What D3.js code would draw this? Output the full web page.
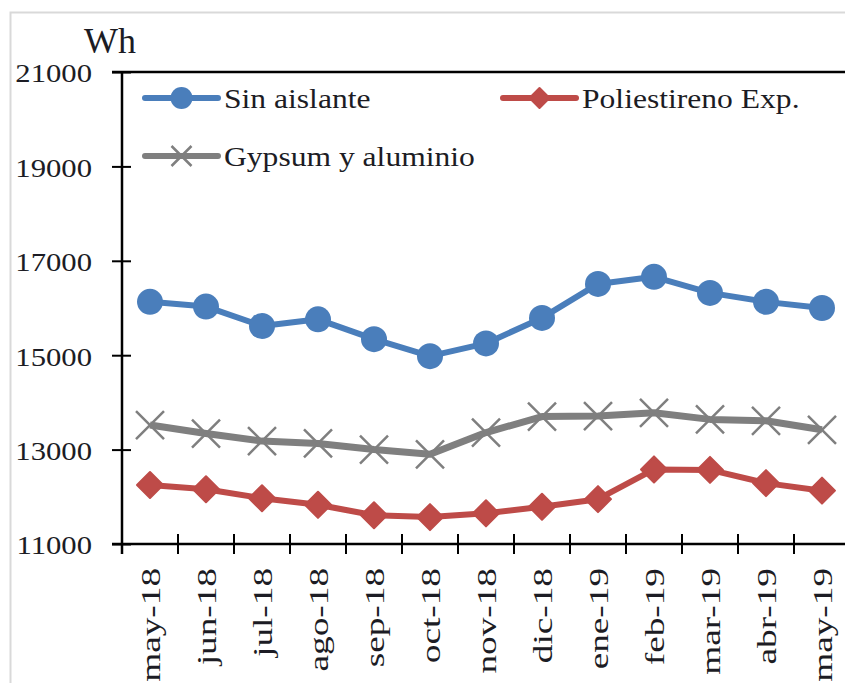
<!DOCTYPE html>
<html>
<head>
<meta charset="utf-8">
<script src="https://cdn.jsdelivr.net/npm/d3@7"></script>
<style>
  body { margin: 0; background: #fff; }
  text { font-family: "Liberation Serif", "Times New Roman", serif; fill: #1c1c24; }
</style>
</head>
<body>
<script>
var months = ["may-18", "jun-18", "jul-18", "ago-18", "sep-18", "oct-18", "nov-18",
              "dic-18", "ene-19", "feb-19", "mar-19", "abr-19", "may-19"];
var sinAislante = [16130, 16030, 15620, 15760, 15340, 14980, 15250, 15790, 16510, 16660, 16320, 16130, 16000];
var poliestireno = [12250, 12160, 11970, 11830, 11610, 11570, 11650, 11790, 11950, 12580, 12570, 12290, 12130];
var gypsum = [13520, 13340, 13180, 13130, 13000, 12900, 13360, 13700, 13710, 13780, 13640, 13610, 13420];
var yTicks = [11000, 13000, 15000, 17000, 19000, 21000];
var unitLabel = "Wh";

var series = [
  {name: "Sin aislante", values: sinAislante, color: "#4a7ebb", marker: "circle"},
  {name: "Poliestireno Exp.", values: poliestireno, color: "#be4b48", marker: "diamond"},
  {name: "Gypsum y aluminio", values: gypsum, color: "#7f7f7f", marker: "cross"}
];

var svg = d3.select("body").append("svg")
  .attr("width", 845)
  .attr("height", 683);

// light frame around the chart
svg.append("rect")
  .attr("x", 10.5).attr("y", 12.5)
  .attr("width", 900).attr("height", 700)
  .attr("fill", "#fff")
  .attr("stroke", "#d9d9d9")
  .attr("stroke-width", 2);

var x = d3.scaleBand().domain(months).range([122, 850]);
var y = d3.scaleLinear().domain([11000, 21000]).range([544, 72]);
var cx = function(i) { return x(months[i]) + x.bandwidth() / 2; };

// y axis
var yAxis = d3.axisLeft(y).tickValues(yTicks).tickSize(10).tickFormat(d3.format("d"));
var gy = svg.append("g").attr("transform", "translate(122,0)").call(yAxis);
gy.select(".domain").remove();
gy.selectAll(".tick line").attr("x1", 9).attr("x2", -10).attr("stroke", "#000").attr("stroke-width", 2);
gy.selectAll(".tick text")
  .attr("x", 0)
  .attr("dy", "0.34em")
  .attr("text-anchor", "end")
  .attr("transform", "translate(-30,1) scale(1.18,1)")
  .style("font-size", "26px")
  .style("font-family", "Liberation Serif");

// x axis: labels at category centres, ticks at the boundaries
var xAxis = d3.axisBottom(x).tickSize(0);
var gx = svg.append("g").attr("transform", "translate(0,544)").call(xAxis);
gx.select(".domain").remove();
gx.selectAll(".tick text")
  .attr("x", 0).attr("y", 0)
  .attr("dy", "0.34em")
  .attr("text-anchor", "end")
  .attr("transform", "translate(1,24) rotate(-90) scale(1.38,1)")
  .style("font-size", "27px")
  .style("font-family", "Liberation Serif");

svg.selectAll(".xtick")
  .data(months)
  .enter()
  .append("line")
  .attr("class", "xtick")
  .attr("x1", function(d) { return x(d) + x.bandwidth(); })
  .attr("x2", function(d) { return x(d) + x.bandwidth(); })
  .attr("y1", 534).attr("y2", 554)
  .attr("stroke", "#000").attr("stroke-width", 2);

// axis lines and top border of the plot
svg.append("line").attr("x1", 122).attr("x2", 122).attr("y1", 72).attr("y2", 554)
  .attr("stroke", "#000").attr("stroke-width", 2.5);
svg.append("line").attr("x1", 112).attr("x2", 850).attr("y1", 544).attr("y2", 544)
  .attr("stroke", "#000").attr("stroke-width", 2.5);
svg.append("line").attr("x1", 112).attr("x2", 850).attr("y1", 72).attr("y2", 72)
  .attr("stroke", "#000").attr("stroke-width", 2.5);

svg.append("text")
  .attr("x", 84).attr("y", 53)
  .style("font-size", "36px")
  .text(unitLabel);

var drawMarker = function(sel, kind, color, s) {
  if (kind == "circle") {
    sel.append("circle").attr("r", s).attr("fill", color);
  } else if (kind == "diamond") {
    sel.append("path")
      .attr("d", "M0," + (-s) + "L" + s + ",0L0," + s + "L" + (-s) + ",0Z")
      .attr("fill", color)
      .attr("stroke", color).attr("stroke-width", 2).attr("stroke-linejoin", "round");
  } else {
    sel.append("path")
      .attr("d", "M" + (-s) + "," + (-s) + "L" + s + "," + s + "M" + (-s) + "," + s + "L" + s + "," + (-s))
      .attr("fill", "none")
      .attr("stroke", color).attr("stroke-width", 2.5);
  }
};

var line = d3.line()
  .x(function(d, i) { return cx(i); })
  .y(function(d) { return y(d); });

series.forEach(function(s) {
  svg.append("path")
    .attr("d", line(s.values))
    .attr("fill", "none")
    .attr("stroke", s.color)
    .attr("stroke-width", s.marker == "cross" ? 7 : 6)
    .attr("stroke-linejoin", "round");

  var m = svg.selectAll(".m-" + s.marker)
    .data(s.values)
    .enter()
    .append("g")
    .attr("class", "m-" + s.marker)
    .attr("transform", function(d, i) { return "translate(" + cx(i) + "," + y(d) + ")"; });
  drawMarker(m, s.marker, s.color, s.marker == "circle" ? 13 : (s.marker == "diamond" ? 13 : 14));
});

// legend
var legendPos = [[145, 98], [503, 98], [145, 156]];
series.forEach(function(s, i) {
  var g = svg.append("g").attr("transform", "translate(" + legendPos[i][0] + "," + legendPos[i][1] + ")");
  g.append("line").attr("x1", 0).attr("x2", 73).attr("y1", 0).attr("y2", 0)
    .attr("stroke", s.color).attr("stroke-width", 6).attr("stroke-linecap", "round");
  drawMarker(g.append("g").attr("transform", "translate(36.5,0)"), s.marker, s.color, s.marker == "circle" ? 11 : 10);
  g.append("text")
    .attr("transform", "translate(79,10) scale(1.17,1)")
    .style("font-size", "27px")
    .text(s.name);
});
</script>
</body>
</html>
